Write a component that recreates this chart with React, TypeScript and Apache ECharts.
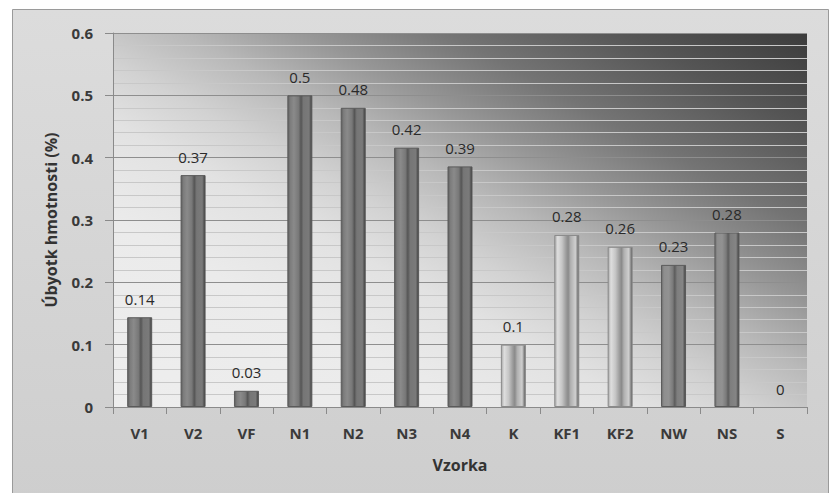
import React, { useEffect, useRef } from "react";
import * as echarts from "echarts";

const categories = ["V1", "V2", "VF", "N1", "N2", "N3", "N4", "K", "KF1", "KF2", "NW", "NS", "S"];
const values = [0.144, 0.372, 0.026, 0.5, 0.48, 0.416, 0.386, 0.1, 0.276, 0.257, 0.228, 0.28, 0];
const yTicks = [0, 0.1, 0.2, 0.3, 0.4, 0.5, 0.6];
const lightBars = ["K", "KF1", "KF2"];
const mediumBars = ["NW", "NS"];

const FONT = "'Open Sans', 'Liberation Sans', sans-serif";

const hGrad = (stops: [number, string][]) =>
  new echarts.graphic.LinearGradient(0, 0, 1, 0, stops.map(([offset, color]) => ({ offset, color })));

const darkGrad = () =>
  hGrad([
    [0, "#5e5e5e"],
    [0.1, "#7c7c7c"],
    [0.25, "#8a8a8a"],
    [0.45, "#787878"],
    [0.55, "#555555"],
    [0.65, "#767676"],
    [0.88, "#7a7a7a"],
    [1, "#3e3e3e"],
  ]);
const mediumGrad = () =>
  hGrad([
    [0, "#6e6e6e"],
    [0.1, "#8e8e8e"],
    [0.3, "#929292"],
    [0.47, "#7a7a7a"],
    [0.55, "#5c5c5c"],
    [0.65, "#7e7e7e"],
    [0.88, "#858585"],
    [1, "#404040"],
  ]);
const lightGrad = () =>
  hGrad([
    [0, "#a8a8a8"],
    [0.12, "#dedede"],
    [0.3, "#c6c6c6"],
    [0.48, "#9a9a9a"],
    [0.56, "#8a8a8a"],
    [0.66, "#b0b0b0"],
    [0.86, "#cfcfcf"],
    [1, "#5a5a5a"],
  ]);

export default function App() {
  const ref = useRef<HTMLDivElement>(null);
  useEffect(() => {
    if (!ref.current) return;
    const chart = echarts.init(ref.current, null, { renderer: "svg" });
    const barData = values.map((v, i) => {
      const c = categories[i];
      const color = lightBars.includes(c) ? lightGrad() : mediumBars.includes(c) ? mediumGrad() : darkGrad();
      return {
        value: v,
        itemStyle: {
          color,
          borderColor: lightBars.includes(c) ? "#8a8a8a" : "#5a5a5a",
          borderWidth: v === 0 ? 0 : 1,
        },
      };
    });
    chart.setOption({
      animation: false,
      backgroundColor: "#ffffff",
      graphic: [
        {
          type: "rect",
          left: 12,
          top: 9,
          shape: { width: 816, height: 490 },
          style: {
            fill: new echarts.graphic.LinearGradient(0, 0, 0, 1, [
              { offset: 0, color: "#dcdcdc" },
              { offset: 1, color: "#cecece" },
            ]),
            stroke: "#9a9a9a",
            lineWidth: 1,
          },
          z: -10,
          silent: true,
        },
      ],
      grid: {
        left: 113,
        right: 25,
        top: 33,
        bottom: 86,
        show: true,
        borderWidth: 0,
        backgroundColor: new echarts.graphic.LinearGradient(0, 1, 1, 0, [
          { offset: 0, color: "#eeeeee" },
          { offset: 0.25, color: "#ebebeb" },
          { offset: 0.38, color: "#e2e2e2" },
          { offset: 0.46, color: "#d2d2d2" },
          { offset: 0.55, color: "#b8b8b8" },
          { offset: 0.64, color: "#969696" },
          { offset: 0.74, color: "#747474" },
          { offset: 0.87, color: "#555555" },
          { offset: 1, color: "#3c3c3c" },
        ]),
      },
      xAxis: {
        type: "category",
        data: categories,
        name: "Vzorka",
        nameLocation: "middle",
        nameGap: 50,
        nameTextStyle: { fontFamily: FONT, fontSize: 16, fontWeight: "bold", color: "#333" },
        axisLine: { show: true, lineStyle: { color: "#8a8a8a", width: 1 } },
        axisTick: { show: true, length: 7, lineStyle: { color: "#8a8a8a" } },
        axisLabel: { fontFamily: FONT, fontSize: 15, fontWeight: "bold", color: "#3a3a3a", margin: 18 },
      },
      yAxis: {
        type: "value",
        min: 0,
        max: 0.6,
        interval: 0.1,
        name: "Úbyotk hmotnosti (%)",
        nameLocation: "middle",
        nameGap: 54,
        nameTextStyle: { fontFamily: FONT, fontSize: 16, fontWeight: "bold", color: "#333" },
        axisLine: { show: true, lineStyle: { color: "#8a8a8a", width: 1 } },
        axisTick: { show: true, length: 8, lineStyle: { color: "#8a8a8a" } },
        axisLabel: {
          fontFamily: FONT,
          fontSize: 15,
          fontWeight: "bold",
          color: "#3a3a3a",
          margin: 20,
          formatter: (v: number) => {
            const t = yTicks.find((x) => Math.abs(x - v) < 1e-9);
            return String(t !== undefined ? t : Math.round(v * 10) / 10);
          },
        },
        splitLine: { show: true, lineStyle: { color: "#8e8e8e", width: 1.2 } },
        minorTick: { show: false, splitNumber: 5 },
        minorSplitLine: { show: true, lineStyle: { color: "#c8c8c8", width: 1.2 } },
      },
      series: [
        {
          type: "bar",
          data: barData,
          barWidth: 25,
          label: {
            show: true,
            position: "top",
            distance: 11,
            fontFamily: FONT,
            fontSize: 15,
            color: "#2a2a2a",
            formatter: (p: any) => String(Math.round(p.value * 100) / 100),
          },
        },
      ],
    });
    return () => chart.dispose();
  }, []);
  return (
    <div style={{ position: "absolute", left: 0, top: 0, width: 832, height: 493, background: "#fff" }}>
      <div ref={ref} style={{ width: 832, height: 493 }} />
    </div>
  );
}
